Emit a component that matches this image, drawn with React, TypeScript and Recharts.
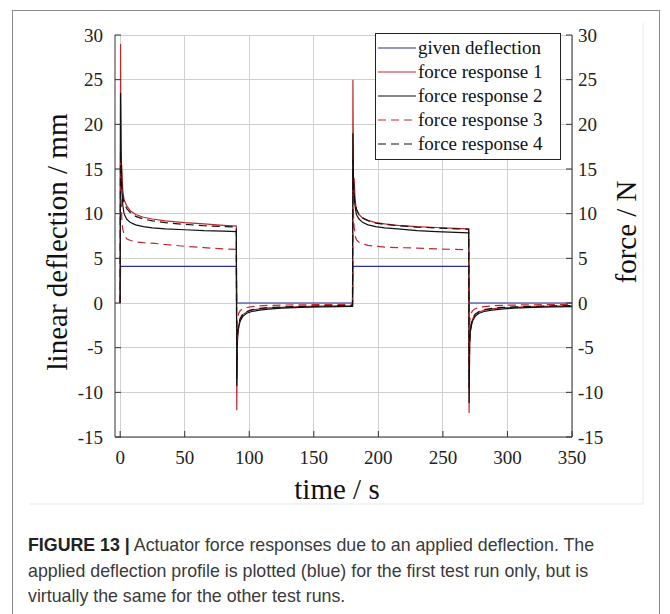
import { LineChart, Line, XAxis, YAxis, CartesianGrid, Legend } from 'recharts';

// time grid (s), one half-cycle per row
const time = [
  0, 0.3, 0.7, 1.2, 2, 3, 5, 8, 12, 18, 25, 35, 50, 65, 80,
  90, 90.3, 90.7, 91.2, 92, 93, 95, 98, 102, 108, 115, 125, 140, 155, 170,
  180, 180.3, 180.7, 181.2, 182, 183, 185, 188, 192, 198, 205, 215, 230, 245, 260,
  270, 270.3, 270.7, 271.2, 272, 273, 275, 278, 282, 288, 295, 305, 320, 335, 350,
];

const givenDeflection = [
  0, 4.1, 4.1, 4.1, 4.1, 4.1, 4.1, 4.1, 4.1, 4.1, 4.1, 4.1, 4.1, 4.1, 4.1,
  4.1, 0, 0, 0, 0, 0, 0, 0, 0, 0, 0, 0, 0, 0, 0,
  0, 4.1, 4.1, 4.1, 4.1, 4.1, 4.1, 4.1, 4.1, 4.1, 4.1, 4.1, 4.1, 4.1, 4.1,
  4.1, 0, 0, 0, 0, 0, 0, 0, 0, 0, 0, 0, 0, 0, 0,
];

const forceResponse1 = [
  0, 29, 14, 15.5, 12.6, 11.6, 10.9, 10.3, 9.9, 9.6, 9.4, 9.2, 9.0, 8.85, 8.7,
  8.6, -12, -4.8, -3.2, -2.4, -1.8, -1.3, -1.0, -0.8, -0.65, -0.55, -0.48, -0.4, -0.35, -0.32,
  -0.3, 25, 13.5, 14, 11.5, 10.5, 9.9, 9.5, 9.25, 9.0, 8.85, 8.7, 8.55, 8.45, 8.35,
  8.3, -12.3, -4.8, -3.2, -2.4, -1.8, -1.3, -1.0, -0.8, -0.65, -0.55, -0.48, -0.4, -0.35, -0.32,
];

const forceResponse2 = [
  0, 23.5, 17, 13, 11, 10, 9.4, 9.0, 8.75, 8.55, 8.4, 8.3, 8.2, 8.1, 8.05,
  8.0, -9.3, -4.5, -3.3, -2.6, -2.0, -1.5, -1.15, -0.95, -0.8, -0.68, -0.58, -0.5, -0.44, -0.4,
  -0.38, 19, 14, 12, 10.8, 9.9, 9.4, 9.0, 8.75, 8.55, 8.4, 8.3, 8.1, 8.0, 7.9,
  7.85, -11.2, -4.5, -3.3, -2.6, -2.0, -1.5, -1.15, -0.95, -0.8, -0.68, -0.58, -0.5, -0.44, -0.4,
];

const forceResponse3 = [
  0, 16, 12, 9.5, 8.3, 7.7, 7.2, 7.0, 6.85, 6.75, 6.7, 6.55, 6.35, 6.2, 6.05,
  6.0, -6, -2.2, -1.5, -1.1, -0.85, -0.65, -0.5, -0.4, -0.32, -0.27, -0.23, -0.2, -0.18, -0.16,
  -0.15, 13, 10, 8.5, 7.5, 7.1, 6.8, 6.6, 6.45, 6.35, 6.25, 6.2, 6.15, 6.05, 6.0,
  5.95, -7, -2.2, -1.5, -1.1, -0.85, -0.65, -0.5, -0.4, -0.32, -0.27, -0.23, -0.2, -0.18, -0.16,
];

const forceResponse4 = [
  0, 17, 14.5, 13, 12, 11.2, 10.6, 10.1, 9.7, 9.4, 9.2, 9.0, 8.8, 8.65, 8.55,
  8.5, -8.5, -4.2, -3.0, -2.3, -1.7, -1.25, -0.95, -0.75, -0.6, -0.5, -0.44, -0.37, -0.33, -0.3,
  -0.28, 16, 13.5, 12.3, 11.3, 10.5, 9.9, 9.5, 9.2, 8.95, 8.8, 8.65, 8.5, 8.4, 8.3,
  8.25, -9.5, -4.2, -3.0, -2.3, -1.7, -1.25, -0.95, -0.75, -0.6, -0.5, -0.44, -0.37, -0.33, -0.3,
];

const xTicks = [0, 50, 100, 150, 200, 250, 300, 350];
const yTicks = [-15, -10, -5, 0, 5, 10, 15, 20, 25, 30];
const xDomain = [-4, 350];
const yDomain = [-15, 30];

const BLUE = '#2b2d9b';
const RED = '#c0282e';
const BLACK = '#111111';
const GRID = '#d0d0d0';

const series = [
  { key: 'given', name: 'given deflection', values: givenDeflection, color: BLUE, dash: undefined },
  { key: 'f1', name: 'force response 1', values: forceResponse1, color: RED, dash: undefined },
  { key: 'f2', name: 'force response 2', values: forceResponse2, color: BLACK, dash: undefined },
  { key: 'f3', name: 'force response 3', values: forceResponse3, color: RED, dash: '8 5' },
  { key: 'f4', name: 'force response 4', values: forceResponse4, color: BLACK, dash: '8 5' },
];

const data = time.map((t, i) => {
  const row: Record<string, number> = { t };
  series.forEach((s) => {
    row[s.key] = s.values[i];
  });
  return row;
});

const SERIF = '"Liberation Serif", "Times New Roman", serif';
const AXIS = '#333';

// grid lines at the tick values, snapped to the pixel grid so they stay crisp
const snap = (p: number) => Math.round(p - 0.5) + 0.5;

function scaled(axis: any, v: number, fallback: number) {
  const p = axis && typeof axis.scale === 'function' ? axis.scale(v) : NaN;
  return snap(Number.isFinite(p) ? p : fallback);
}

function horizontalGrid({ yAxis, offset }: any) {
  return yTicks.map((v) =>
    scaled(yAxis, v, offset.top + ((yDomain[1] - v) / (yDomain[1] - yDomain[0])) * offset.height)
  );
}

function verticalGrid({ xAxis, offset }: any) {
  return xTicks.map((v) =>
    scaled(xAxis, v, offset.left + ((v - xDomain[0]) / (xDomain[1] - xDomain[0])) * offset.width)
  );
}

function LeftTick({ x, y, payload }: any) {
  return (
    <g>
      <line x1={x} x2={x + 6} y1={y} y2={y} stroke={AXIS} />
      <text x={x - 12} y={y + 6.5} textAnchor="end" fontFamily={SERIF} fontSize={19} fill="#222">
        {payload.value}
      </text>
    </g>
  );
}

function RightTick({ x, y, payload }: any) {
  return (
    <g>
      <line x1={x} x2={x - 6} y1={y} y2={y} stroke={AXIS} />
      <text x={x + 6} y={y + 6.5} textAnchor="start" fontFamily={SERIF} fontSize={19} fill="#222">
        {payload.value}
      </text>
    </g>
  );
}

function BottomTick({ x, y, payload }: any) {
  return (
    <g>
      <line x1={x} x2={x} y1={y} y2={y - 6} stroke={AXIS} />
      <text x={x} y={y + 27} textAnchor="middle" fontFamily={SERIF} fontSize={19} fill="#222">
        {payload.value}
      </text>
    </g>
  );
}

function LegendBox() {
  return (
    <div
      style={{
        border: '1px solid #222',
        background: '#fff',
        width: 184,
        padding: '2px 0 3px 0',
        fontFamily: SERIF,
        fontSize: 19,
        color: '#111',
      }}
    >
      {series.map((s) => (
        <div key={s.key} style={{ display: 'flex', alignItems: 'center', height: 24 }}>
          <svg width={42} height={10} style={{ flex: 'none' }}>
            <line x1={2} x2={40} y1={5} y2={5} stroke={s.color} strokeWidth={1.2} strokeDasharray={s.dash} />
          </svg>
          <span style={{ whiteSpace: 'nowrap', lineHeight: '24px' }}>{s.name}</span>
        </div>
      ))}
    </div>
  );
}

export default function App() {
  return (
    <div style={{ position: 'absolute', left: 0, top: 0, width: 670, height: 614, background: '#fff', overflow: 'hidden' }}>
      {/* outer figure frame */}
      <div
        style={{
          position: 'absolute',
          left: 12,
          top: 10,
          width: 648,
          height: 620,
          border: '1px solid #8a8a8a',
          boxSizing: 'border-box',
        }}
      />
      <div
        style={{
          position: 'absolute',
          left: 30,
          top: 23,
          width: 614,
          height: 482,
          borderBottom: '2px solid #f2f2f2',
          borderRight: '2px solid #f4f4f4',
          boxSizing: 'border-box',
        }}
      />
      <div style={{ position: 'absolute', left: 0, top: 0 }}>
        <LineChart width={670} height={614} data={data} margin={{ top: 35, right: 38, left: 0, bottom: 147 }}>
          <CartesianGrid
            stroke={GRID}
            strokeWidth={1}
            horizontalCoordinatesGenerator={horizontalGrid}
            verticalCoordinatesGenerator={verticalGrid}
          />
          <XAxis
            dataKey="t"
            type="number"
            domain={xDomain}
            ticks={xTicks}
            allowDataOverflow
            height={30}
            tickSize={0}
            tickMargin={0}
            tickLine={false}
            tick={<BottomTick />}
            axisLine={{ stroke: AXIS }}
          />
          <YAxis
            orientation="left"
            type="number"
            domain={yDomain}
            ticks={yTicks}
            allowDataOverflow
            width={115}
            tickSize={0}
            tickMargin={0}
            tickLine={false}
            tick={<LeftTick />}
            axisLine={{ stroke: AXIS }}
          />
          <YAxis
            yAxisId="right"
            orientation="right"
            type="number"
            domain={yDomain}
            ticks={yTicks}
            allowDataOverflow
            width={60}
            tickSize={0}
            tickMargin={0}
            tickLine={false}
            tick={<RightTick />}
            axisLine={{ stroke: AXIS }}
          />
          <Legend
            layout="vertical"
            align="center"
            verticalAlign="middle"
            content={<LegendBox />}
            wrapperStyle={{ left: 375, top: 33, width: 186, height: 'auto' }}
          />
          {series.map((s) => (
            <Line
              key={s.key}
              type="linear"
              dataKey={s.key}
              name={s.name}
              stroke={s.color}
              strokeWidth={1.2}
              strokeDasharray={s.dash}
              dot={false}
              activeDot={false}
              isAnimationActive={false}
            />
          ))}
        </LineChart>
      </div>
      {/* axis titles */}
      <div
        style={{
          position: 'absolute',
          left: 57,
          top: 242,
          transform: 'translate(-50%, -50%) rotate(-90deg)',
          fontFamily: SERIF,
          fontSize: 29,
          whiteSpace: 'nowrap',
          color: '#111',
        }}
      >
        linear deflection / mm
      </div>
      <div
        style={{
          position: 'absolute',
          left: 626,
          top: 232,
          transform: 'translate(-50%, -50%) rotate(-90deg)',
          fontFamily: SERIF,
          fontSize: 29,
          whiteSpace: 'nowrap',
          color: '#111',
        }}
      >
        force / N
      </div>
      <div
        style={{
          position: 'absolute',
          left: 337,
          top: 489,
          transform: 'translate(-50%, -50%)',
          fontFamily: SERIF,
          fontSize: 29,
          whiteSpace: 'nowrap',
          color: '#111',
        }}
      >
        time / s
      </div>
      {/* caption */}
      <div
        style={{
          position: 'absolute',
          left: 28,
          top: 533,
          width: 630,
          fontFamily: '"Liberation Sans", Arial, sans-serif',
          fontSize: 17.8,
          lineHeight: '25.5px',
          color: '#3a3a3a',
          whiteSpace: 'nowrap',
        }}
      >
        <b style={{ color: '#222' }}>FIGURE 13 |</b> Actuator force responses due to an applied deflection. The
        <br />
        applied deflection profile is plotted (blue) for the first test run only, but is
        <br />
        virtually the same for the other test runs.
      </div>
    </div>
  );
}
